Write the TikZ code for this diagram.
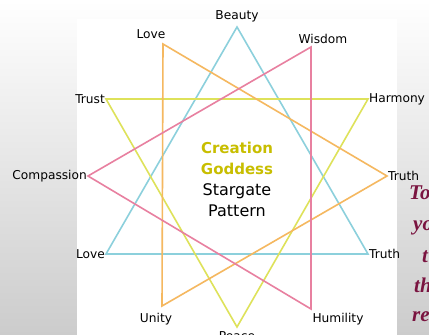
\documentclass[tikz,border=0pt]{standalone}
\usepackage{fontspec}
\setmainfont{DejaVu Sans}
\newfontfamily\sidefont{Liberation Serif}
\definecolor{triblue}{RGB}{140,208,220}
\definecolor{triyellow}{RGB}{222,226,90}
\definecolor{triorange}{RGB}{245,184,96}
\definecolor{tripink}{RGB}{232,128,160}
\definecolor{goldtext}{RGB}{200,190,0}
\definecolor{sidemaroon}{RGB}{122,20,64}
\tikzset{
  tri/.style={line width=1.6pt, line join=miter},
  lbl/.style={font=\fontsize{12.2}{14}\selectfont, inner sep=1pt, text=black},
  side/.style={font=\fontsize{21}{24}\sidefont\bfseries\itshape, text=sidemaroon, anchor=base west, inner sep=0pt},
}
\begin{document}
\begin{tikzpicture}[x=1pt,y=-1pt]
\clip (0,0) rectangle (429,335);
\shade[top color=white, bottom color=black!20] (0,0) rectangle (429,335);
\fill[white] (77,19) rectangle (397,335);
% vertices
\coordinate (bB) at (237,27);
\coordinate (bL) at (106,254);
\coordinate (bR) at (368,254);
\coordinate (yL) at (106,99);
\coordinate (yR) at (368,99);
\coordinate (yB) at (237,327);
\coordinate (oT) at (163,44);
\coordinate (oR) at (387,176);
\coordinate (oB) at (162,306);
\coordinate (pT) at (311,47);
\coordinate (pL) at (88,176);
\coordinate (pB) at (311,309);
% triangles
\draw[tri, triblue] (bB) -- (bL) -- (bR) -- cycle;
\draw[tri, triyellow] (yL) -- (yR) -- (yB) -- cycle;
\draw[tri, triorange] (oT) -- (oR) -- (oB) -- cycle;
\draw[tri, tripink] (pT) -- (pL) -- (pB) -- cycle;
% labels
\node[lbl, anchor=base] (beauty) at (237,19) {Beauty};
\node[lbl, anchor=base] (love1) at (151,38) {Love};
\node[lbl, anchor=base] (wisdom) at (323,43) {Wisdom};
\node[lbl, anchor=east] (trust) at (yL) {Trust};
\node[lbl, anchor=west] (harmony) at (yR) {Harmony};
\node[lbl, anchor=east] (compassion) at (pL) {Compassion};
\node[lbl, anchor=west] (truth1) at (oR) {Truth};
\node[lbl, anchor=east] (love2) at (bL) {Love};
\node[lbl, anchor=west] (truth2) at (bR) {Truth};
\node[lbl, anchor=base] (unity) at (156,322) {Unity};
\node[lbl, anchor=base] (humility) at (338,322) {Humility};
\node[lbl, anchor=base] (peace) at (237,340) {Peace};
% centre title
\node[align=center, inner sep=0pt, font=\fontsize{16}{21}\selectfont] (title) at (237,179)
  {\textcolor{goldtext}{\fontsize{15}{21}\selectfont\bfseries Creation}\\\textcolor{goldtext}{\fontsize{15}{21}\selectfont\bfseries Goddess}\\Stargate\\Pattern};
% side text (cut off in the reference)
\node[side] (s1) at (409,199) {To};
\node[side] (s2) at (413,230) {yo};
\node[side] (s3) at (422,262) {t};
\node[side] (s4) at (414,292) {th};
\node[side] (s5) at (412,321) {re};
\end{tikzpicture}
\end{document}
